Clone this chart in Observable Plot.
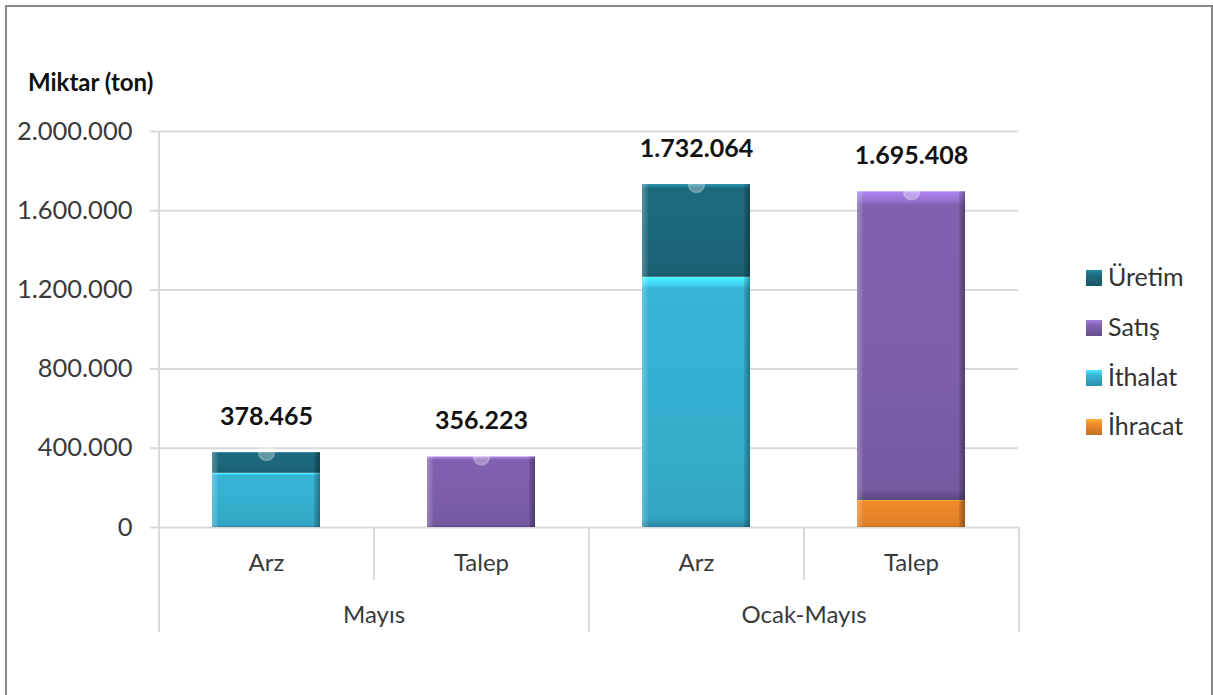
<!DOCTYPE html>
<html><head><meta charset="utf-8">
<script src="https://cdn.jsdelivr.net/npm/d3@7"></script>
<script src="https://cdn.jsdelivr.net/npm/@observablehq/plot@0.6"></script>
<style>
html,body{margin:0;padding:0;background:#fff;width:1213px;height:695px;overflow:hidden;font-family:Lato,sans-serif;}
#wrap{position:relative;width:1213px;height:695px;}
#border{position:absolute;left:5px;top:5px;width:1208px;height:720px;border:2px solid #898989;box-sizing:border-box;pointer-events:none;}
#chart{position:absolute;left:0;top:0;}
#ylabel{position:absolute;left:28px;top:67px;line-height:30px;font-size:24px;font-weight:bold;color:#111;}
.leg{position:absolute;left:1086px;height:30px;line-height:30px;font-size:25px;color:#333;white-space:nowrap;}
.leg span.sw{display:inline-block;width:16px;height:16px;vertical-align:middle;margin-right:6px;position:relative;top:-2px;}
</style></head>
<body><div id="wrap"><div id="border"></div><div id="chart"></div><div id="ylabel">Miktar (ton)</div><div id="legend"></div></div>
<script>
// ---- data ----
const periods = ["Mayıs", "Mayıs", "Ocak-Mayıs", "Ocak-Mayıs"];
const sides = ["Arz", "Talep", "Arz", "Talep"];
const totals = [378465, 356223, 1732064, 1695408];
const seriesNames = ["İhracat", "İthalat", "Satış", "Üretim"]; // stacking order, bottom to top
const ihracat = [0, 0, 0, 136000];
const ithalat = [274000, 0, 1264000, 0];
const satis = [0, 356223, 0, 1559408];
const uretim = [104465, 0, 468064, 0];
const yTicks = [0, 400000, 800000, 1200000, 1600000, 2000000];
const legendOrder = ["Üretim", "Satış", "İthalat", "İhracat"];
const seriesColors = ["#f08a2a", "#37b4d5", "#8061b0", "#1d6a7e"];

// ---- derived tables ----
const keys = periods.map((p, i) => p + "|" + sides[i]);
const seriesValues = [ihracat, ithalat, satis, uretim];
const rows = [];
keys.forEach((k, i) => seriesNames.forEach((s, j) => {
  const v = seriesValues[j][i];
  if (v > 0) rows.push({key: k, series: s, value: v});
}));
const totalRows = keys.map((k, i) => ({key: k, total: totals[i], side: sides[i]}));
const groups = [...new Set(periods)].map(p => ({period: p, key: keys[periods.indexOf(p)]}));

const trFormat = d3.formatLocale({decimal: ",", thousands: ".", grouping: [3], currency: ["", " ₺"]}).format(",d");

const W = 1213, H = 695, ML = 158, MR = 195, MT = 131, MB = 63;
const yRange = [527, 131];
const step = (W - ML - MR) / keys.length; // paddingInner .5 + 2*paddingOuter .25 => n steps
const insTop = yRange[0] - MT;
const insShort = (H - MB) - 580;
const grid = "#d9d9d9";
const txt = "#3a3a3a";
const gid = (i) => "grad-" + i;

const chart = Plot.plot({
  width: W, height: H,
  marginLeft: ML, marginRight: MR, marginTop: MT, marginBottom: MB,
  style: {fontFamily: "Lato, sans-serif", background: "transparent", overflow: "visible"},
  x: {type: "band", domain: keys, paddingInner: 0.5, paddingOuter: 0.25, axis: null},
  y: {domain: [0, 2000000], range: yRange, axis: null},
  color: {type: "ordinal", domain: seriesNames, range: seriesNames.map((s, i) => `url(#${gid(i)})`)},
  marks: [
    Plot.ruleY(yTicks, {stroke: grid, strokeWidth: 2, insetLeft: -8}),
    Plot.ruleX([keys[0]], {dx: -step / 2, stroke: grid, strokeWidth: 2}),
    Plot.ruleX([keys[1], keys[3]], {dx: -step / 2, stroke: grid, strokeWidth: 2, insetTop: insTop, insetBottom: insShort}),
    Plot.ruleX([keys[2]], {dx: -step / 2, stroke: grid, strokeWidth: 2, insetTop: insTop}),
    Plot.ruleX([keys[3]], {dx: step / 2, stroke: grid, strokeWidth: 2, insetTop: insTop}),
    Plot.text(yTicks, {y: d => d, frameAnchor: "left", dx: -26, textAnchor: "end", text: d => trFormat(d), fontSize: 25.5, fill: txt}),
    Plot.barY(rows, Plot.stackY({x: "key", y: "value", fill: "series"})),
    Plot.barY(rows, Plot.stackY({x: "key", y: "value", fill: "url(#edge)"})),
    Plot.dot(totalRows, {x: "key", y: "total", r: 8, fill: "white", fillOpacity: 0.3, stroke: "white", strokeOpacity: 0.25}),
    Plot.text(totalRows, {x: "key", y: "total", dy: -36, text: d => trFormat(d.total), fontSize: 25, fontWeight: "bold", fill: "#111"}),
    Plot.text(totalRows, {x: "key", y: () => 0, dy: 36, text: "side", fontSize: 24, fill: txt}),
    Plot.text(groups, {x: "key", y: () => 0, dx: step / 2, dy: 88, text: "period", fontSize: 24, fill: txt})
  ]
});

// gradients for a bevelled look
const svg = d3.select(chart);
const defs = svg.insert("defs", ":first-child");
seriesColors.forEach((c, i) => {
  const base = d3.color(c);
  const g = defs.append("linearGradient").attr("id", gid(i)).attr("x1", 0).attr("y1", 0).attr("x2", 0).attr("y2", 1);
  [[0, base.brighter(0.9)], [0.035, base.brighter(0.35)], [0.045, base], [0.6, base.darker(0.1)], [0.965, base.darker(0.25)], [1, base.darker(0.9)]]
    .forEach(([o, col]) => g.append("stop").attr("offset", o).attr("stop-color", col.formatHex()));
});
const e = defs.append("linearGradient").attr("id", "edge").attr("x1", 0).attr("y1", 0).attr("x2", 1).attr("y2", 0);
[[0, "rgba(255,255,255,0.25)"], [0.05, "rgba(255,255,255,0.08)"], [0.06, "rgba(0,0,0,0)"], [0.94, "rgba(0,0,0,0)"], [0.95, "rgba(0,0,0,0.12)"], [1, "rgba(0,0,0,0.35)"]]
  .forEach(([o, col]) => e.append("stop").attr("offset", o).attr("stop-color", col));

document.getElementById("chart").appendChild(chart);

// legend
const legend = document.getElementById("legend");
const legendY = [276, 326, 376, 425];
legendOrder.forEach((s, i) => {
  const c = d3.color(seriesColors[seriesNames.indexOf(s)]);
  const div = document.createElement("div");
  div.className = "leg";
  div.style.top = (legendY[i] - 15) + "px";
  div.innerHTML = `<span class="sw" style="background:linear-gradient(180deg, ${c.brighter(0.7).formatHex()} 0%, ${c.formatHex()} 35%, ${c.darker(0.6).formatHex()} 100%)"></span>${s}`;
  legend.appendChild(div);
});
</script></body></html>
